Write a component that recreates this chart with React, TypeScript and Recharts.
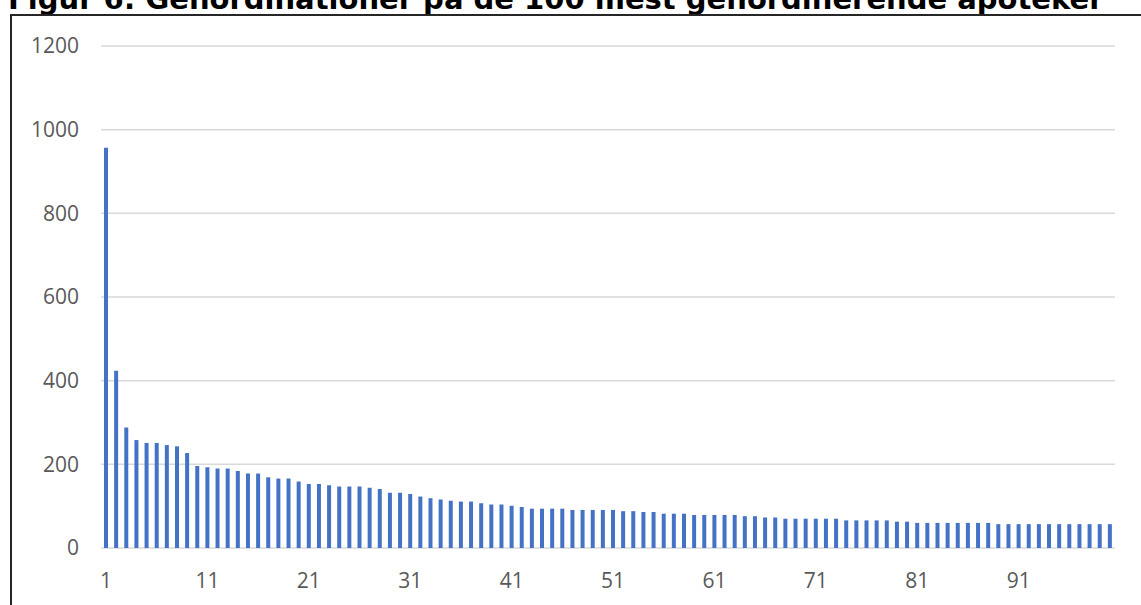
import { BarChart, Bar, XAxis, YAxis, CartesianGrid } from 'recharts';

const TITLE = 'Figur 6: Genordinationer på de 100 mest genordinerende apoteker';

// apotek rang 1..100
const ranks = Array.from({ length: 100 }, (_, i) => String(i + 1));

const genordinationer = [
  957, 424, 288, 258, 251, 251, 246, 243, 227, 196,
  193, 190, 190, 184, 178, 178, 169, 166, 166, 159,
  153, 153, 150, 147, 147, 147, 144, 141, 132, 132,
  129, 123, 119, 116, 113, 111, 111, 107, 104, 104,
  101, 98, 94, 94, 94, 94, 91, 91, 91, 91,
  91, 88, 88, 86, 86, 82, 82, 82, 79, 79,
  79, 79, 79, 76, 76, 73, 73, 70, 70, 70,
  70, 70, 70, 66, 66, 66, 66, 66, 63, 63,
  60, 60, 60, 60, 60, 60, 60, 60, 57, 57,
  57, 57, 57, 57, 57, 57, 57, 57, 57, 57,
];

const yTicks = [0, 200, 400, 600, 800, 1000, 1200];

const data = ranks.map((r, i) => ({ rank: r, value: genordinationer[i] }));

const tickStyle = { fill: '#595959', fontSize: 21, fontFamily: '"Open Sans", "Noto Sans", sans-serif' };

export default function App() {
  return (
    <div style={{ position: 'absolute', left: 0, top: 0, width: 1141, height: 605, overflow: 'hidden', background: '#fff' }}>
      <div
        style={{
          position: 'absolute',
          left: 8,
          top: -15,
          fontFamily: '"DejaVu Sans", Verdana, sans-serif',
          fontWeight: 'bold',
          fontSize: 29,
          lineHeight: '29px',
          whiteSpace: 'nowrap',
          color: '#000',
        }}
      >
        {TITLE}
      </div>
      <div
        style={{
          position: 'absolute',
          left: 10,
          top: 14,
          width: 1200,
          height: 700,
          border: '2px solid #262626',
        }}
      />
      <div style={{ position: 'absolute', left: 0, top: 0 }}>
        <BarChart
          width={1141}
          height={605}
          data={data}
          margin={{ top: 46, right: 26, left: 0, bottom: 17 }}
          barCategoryGap={0}
        >
          <CartesianGrid vertical={false} stroke="#d9d9d9" strokeWidth={1.5} />
          <XAxis
            dataKey="rank"
            interval={9}
            height={40}
            axisLine={false}
            tickLine={false}
            tickSize={0}
            tickMargin={25}
            tick={tickStyle}
          />
          <YAxis
            domain={[0, 1200]}
            ticks={yTicks}
            width={101}
            axisLine={false}
            tickLine={false}
            tickSize={0}
            tickMargin={22}
            tick={tickStyle}
          />
          <Bar dataKey="value" fill="#4472C4" barSize={4} isAnimationActive={false} />
        </BarChart>
      </div>
    </div>
  );
}
